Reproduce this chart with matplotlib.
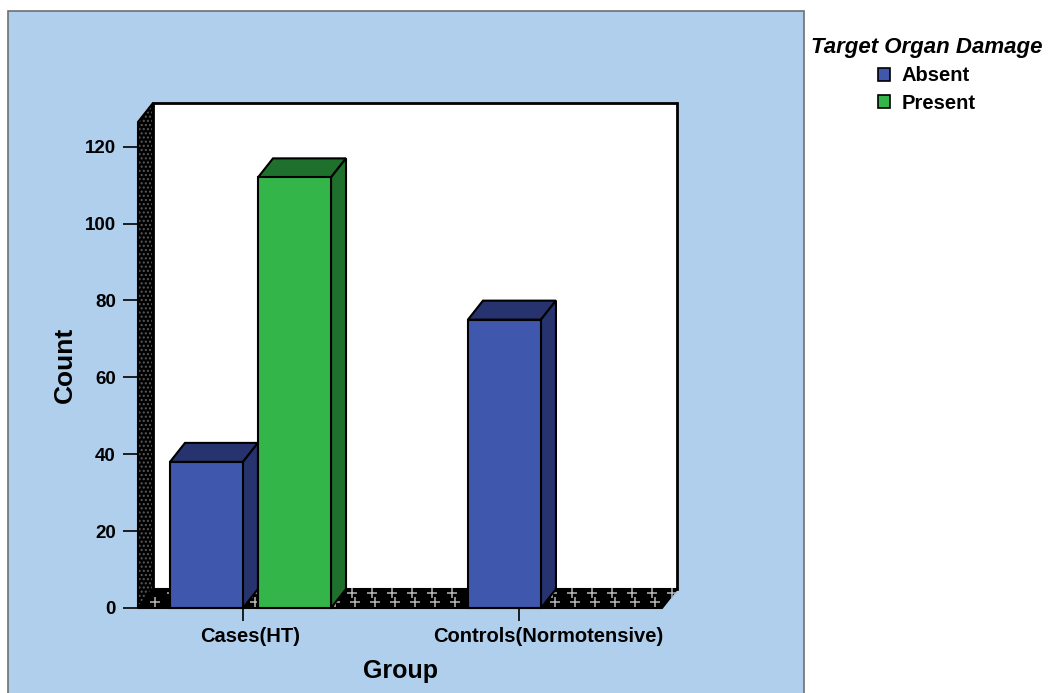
import numpy as np
import matplotlib
matplotlib.use("Agg")
import matplotlib.pyplot as plt
from matplotlib.patches import Polygon, Rectangle, Patch

groups = ["Cases(HT)", "Controls(Normotensive)"]
damage = ["Absent", "Present"]
absent_counts = [38, 75]
present_counts = [112, 0]
y_ticks = [0, 20, 40, 60, 80, 100, 120]

front_colors = {"Absent": "#3F57AC", "Present": "#33B54A"}
shade_colors = {"Absent": "#27336E", "Present": "#1F702C"}

plt.rcParams["font.family"] = ["Liberation Sans", "DejaVu Sans"]
plt.rcParams["font.weight"] = "bold"

W, H = 1052, 693
fig = plt.figure(figsize=(W / 100, H / 100), dpi=100)
fig.patch.set_facecolor("white")

# light blue chart frame, legend sits outside it on white
fig.patches.append(Rectangle((8 / W, -0.02), 796 / W, 682 / H + 0.02,
                             transform=fig.transFigure, facecolor="#AFCFED",
                             edgecolor="#707070", lw=1.2, zorder=0))

ax = fig.add_axes([138 / W, (H - 608) / H, 524 / W, 486 / H])
ax.set_zorder(2)
ax.set_facecolor("none")
for s in ax.spines.values():
    s.set_visible(False)

x_lo, x_hi = -0.3775, 1.381
y_top = 126.4
ax.set_xlim(x_lo, x_hi)
ax.set_ylim(0, y_top)

# depth of the fake 3d box, in data units
dx = 15 * (x_hi - x_lo) / 524
dy = 19 * y_top / 486

# back wall
ax.add_patch(Rectangle((x_lo + dx, dy), x_hi - x_lo, y_top, facecolor="white",
                       edgecolor="black", lw=2, clip_on=False, zorder=1))
# left wall
wall = [(x_lo, 0), (x_lo, y_top), (x_lo + dx, y_top + dy), (x_lo + dx, dy)]
ax.add_patch(Polygon(wall, facecolor="black", edgecolor="#5a5a5a", hatch="....",
                     lw=0, clip_on=False, zorder=2))
ax.add_patch(Polygon(wall, fill=False, edgecolor="black", lw=1.5,
                     clip_on=False, zorder=2))
# floor
floor = Polygon([(x_lo, 0), (x_hi, 0), (x_hi + dx, dy), (x_lo + dx, dy)],
                facecolor="black", edgecolor="black", lw=1.5, clip_on=False, zorder=2)
ax.add_patch(floor)

step = 20 * (x_hi - x_lo) / 524
for depth, phase in [(0.3, 0.0), (0.78, 0.5)]:
    xs = np.arange(x_lo + (phase + 0.6) * step, x_hi, step) + depth * dx
    sc = ax.scatter(xs, np.full_like(xs, depth * dy), marker="+", s=55,
                    color="#b8b8b8", linewidths=1.1, zorder=3, clip_on=False)
    sc.set_clip_path(floor)

offsets = {"Absent": -0.1477, "Present": 0.1477}
bw = 0.245
for name, counts in [("Absent", absent_counts), ("Present", present_counts)]:
    for gi, v in enumerate(counts):
        if v == 0:
            continue
        x0 = gi + offsets[name] - bw / 2
        x1 = x0 + bw
        ax.add_patch(Polygon([(x0, v), (x1, v), (x1 + dx, v + dy), (x0 + dx, v + dy)],
                             facecolor=shade_colors[name], edgecolor="black",
                             lw=1.5, clip_on=False, zorder=4))
        ax.add_patch(Polygon([(x1, 0), (x1, v), (x1 + dx, v + dy), (x1 + dx, dy)],
                             facecolor=shade_colors[name], edgecolor="black",
                             lw=1.5, clip_on=False, zorder=4))
        ax.bar(gi + offsets[name], v, bw, color=front_colors[name],
               edgecolor="black", lw=1.5, zorder=5, clip_on=False)

ax.set_yticks(y_ticks)
ax.tick_params(axis="y", length=11, width=1.2, pad=5, labelsize=13.5)
ax.set_xticks([0, 1])
ax.set_xticklabels(groups)
ax.tick_params(axis="x", which="major", length=0, pad=14, labelsize=14.5)
ax.set_xticks([-0.025, 0.901], minor=True)
ax.tick_params(axis="x", which="minor", length=9, width=1.2)

ax.set_xlabel("Group", fontsize=18, fontweight="bold", va="center")
ax.xaxis.set_label_coords(0.5, -0.1296)
ax.set_ylabel("Count", fontsize=19, fontweight="bold", va="center")
ax.yaxis.set_label_coords(-0.139, 0.5)

handles = [Patch(facecolor=front_colors[n], edgecolor="black", lw=1.2, label=n)
           for n in damage]
fig.legend(handles=handles, title="Target Organ Damage", loc="upper left",
           bbox_to_anchor=(811 / W, 1 - 37 / H), frameon=False,
           prop={"weight": "bold", "size": 14.5},
           title_fontproperties={"weight": "bold", "style": "italic", "size": 16},
           handlelength=0.6, handleheight=0.6, handletextpad=0.6,
           labelspacing=0.42, borderpad=0, borderaxespad=0)

fig.savefig("out.png", dpi=100)
